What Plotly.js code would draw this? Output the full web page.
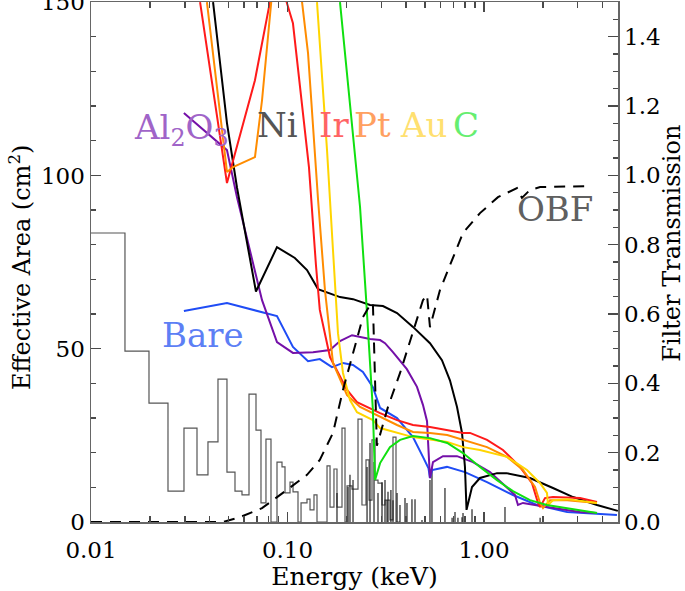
<!DOCTYPE html>
<html>
<head>
<meta charset="utf-8">
<script src="https://cdn.plot.ly/plotly-3.0.1.min.js"></script>
<style>
  html, body { margin: 0; padding: 0; background: #fff; }
  #graph { width: 685px; height: 591px; }
</style>
</head>
<body>
<div id="graph"></div>
<script>
// effective area curves (cm^2) vs energy (keV)
var bareE = [0.0297, 0.0492, 0.0884, 0.1066, 0.1272, 0.146, 0.1684, 0.1916, 0.2155, 0.242, 0.272, 0.296, 0.361, 0.435, 0.489, 0.522, 0.531, 0.545, 0.648, 0.80, 1.036, 1.404, 1.861, 2.65, 4.75];
var bareA = [60.9, 63.2, 59.4, 50.5, 46.4, 47.0, 44.7, 45.9, 45.3, 43.3, 38.9, 32.9, 30.0, 24.5, 18.8, 15.5, 12.7, 15.0, 15.9, 14.4, 11.5, 7.8, 4.9, 2.9, 2.0];

var al2o3E = [0.0297, 0.0492, 0.0553, 0.0742, 0.0884, 0.1066, 0.1349, 0.1645, 0.185, 0.213, 0.263, 0.296, 0.3135, 0.344, 0.405, 0.456, 0.489, 0.513, 0.519, 0.531, 0.550, 0.618, 0.729, 0.879, 1.073, 1.309, 1.438, 1.489, 1.579, 2.09, 3.08, 3.76];
var al2o3A = [118.0, 107.3, 93.8, 64.0, 51.9, 48.8, 49.0, 49.6, 52.2, 53.9, 52.8, 52.5, 51.6, 49.0, 44.1, 39.0, 33.8, 29.1, 23.4, 12.7, 17.3, 19.0, 19.0, 17.3, 14.4, 10.1, 7.8, 4.9, 5.5, 4.3, 2.9, 2.6];

var niE = [0.0418, 0.0492, 0.0553, 0.0691, 0.0884, 0.109, 0.1257, 0.143, 0.185, 0.2155, 0.263, 0.306, 0.361, 0.435, 0.531, 0.611, 0.671, 0.729, 0.773, 0.80, 0.815, 0.869, 0.954, 1.165, 1.30, 1.714, 2.244, 2.84, 3.76, 4.53, 4.8];
var niA = [150, 115.1, 96.6, 66.5, 79.3, 76.2, 72.7, 67.2, 64.9, 64.3, 62.6, 62.3, 60.3, 56.3, 51.6, 46.7, 40.9, 33.2, 25.7, 15.9, 3.5, 10.1, 12.7, 14.1, 14.1, 12.7, 9.8, 7.2, 4.9, 3.5, 3.2];

var irE = [0.0359, 0.0492, 0.0683, 0.0814, 0.09, 0.099, 0.1066, 0.1286, 0.1396, 0.146, 0.1645, 0.2009, 0.2258, 0.296, 0.361, 0.435, 0.531, 0.65, 0.782, 0.849, 1.036, 1.249, 1.524, 1.755, 1.883, 1.93, 2.044, 2.244, 3.08, 3.76];
var irA = [150, 97.8, 127.5, 150, 180, 150, 143.9, 102.4, 74.1, 61.2, 47.6, 38.1, 34.6, 31.4, 29.4, 28.0, 27.4, 26.5, 25.7, 25.7, 23.7, 20.8, 15.9, 11.2, 5.5, 4.3, 6.9, 7.2, 6.9, 5.8];

var ptE = [0.0389, 0.0492, 0.0528, 0.0683, 0.0742, 0.0834, 0.1, 0.1186, 0.1272, 0.1431, 0.1551, 0.1704, 0.2009, 0.234, 0.296, 0.361, 0.435, 0.531, 0.65, 0.782, 1.036, 1.309, 1.579, 1.818, 1.93, 1.997, 2.167, 2.65, 3.76];
var ptA = [150, 101, 102.4, 105.3, 121.7, 150, 200, 150, 135.3, 92.9, 66.9, 45.9, 36.6, 33.2, 30.3, 28.0, 26.0, 25.7, 25.1, 23.7, 21.6, 18.8, 15.0, 10.1, 5.5, 4.0, 6.3, 6.3, 5.5];

var auE = [0.1413, 0.1589, 0.1704, 0.1807, 0.1916, 0.208, 0.2258, 0.272, 0.296, 0.361, 0.435, 0.65, 0.782, 0.954, 1.309, 1.655, 1.93, 2.092, 2.117, 2.244, 2.65, 3.76];
var auA = [150, 107.3, 78.5, 54.5, 43.0, 35.2, 31.7, 29.4, 27.1, 25.7, 24.5, 23.1, 21.6, 20.8, 18.8, 15.0, 11.2, 8.4, 4.9, 6.3, 6.6, 5.5];

var cE = [0.185, 0.208, 0.234, 0.2509, 0.263, 0.272, 0.279, 0.296, 0.332, 0.374, 0.435, 0.531, 0.65, 0.782, 0.954, 1.165, 1.404, 1.714, 2.09, 3.08, 3.76];
var cA = [150, 119.4, 90.9, 64.9, 47.6, 32.3, 12.1, 17.0, 21.6, 23.7, 24.8, 24.2, 22.8, 19.9, 15.9, 12.1, 8.9, 6.3, 4.9, 3.5, 2.6];

// optical blocking filter transmission (right axis)
var obfE = [0.01, 0.0469, 0.0573, 0.0742, 0.099, 0.1257, 0.146, 0.1704, 0.1916, 0.2155, 0.242, 0.263, 0.272, 0.285, 0.3247, 0.374, 0.435, 0.489, 0.513, 0.531, 0.597, 0.695, 0.782, 0.954, 1.178, 1.472, 1.56, 1.714, 1.93, 3.46];
var obfT = [0.0, 0.0, 0.014, 0.040, 0.092, 0.136, 0.179, 0.257, 0.381, 0.488, 0.591, 0.626, 0.632, 0.22, 0.332, 0.430, 0.545, 0.640, 0.655, 0.562, 0.669, 0.764, 0.834, 0.891, 0.937, 0.963, 0.935, 0.958, 0.966, 0.969];

// source spectrum, binned (left edges) and line spikes
var specE = [0.0100, 0.01489, 0.01973, 0.02465, 0.02973, 0.03463, 0.03938, 0.04428, 0.04920, 0.05405, 0.05867, 0.06370, 0.06914, 0.07330, 0.07771, 0.08241, 0.08843, 0.09376, 0.09712, 0.1030, 0.1067, 0.1131, 0.1172, 0.1257, 0.1302, 0.1364, 0.1413, 0.1589, 0.1646, 0.1724, 0.1786, 0.1894, 0.1962, 0.2009, 0.2129, 0.2285, 0.2393, 0.2509, 0.2600, 0.2692, 0.2789, 0.2888, 0.3027, 0.3135, 0.3323, 0.3443, 0.3566, 0.3737];
var specCounts = [83.4, 49.3, 34.3, 8.9, 27.1, 13.6, 23.1, 41.2, 14.4, 8.9, 7.8, 36.9, 26.5, 5.5, 23.9, 0, 17.3, 15.9, 8.4, 11.5, 8.7, 0, 5.5, 6.6, 3.5, 7.8, 0, 16.2, 4.3, 15.3, 4.3, 27.1, 0, 10.4, 9.5, 29.7, 4.9, 17.9, 6.3, 23.7, 12.1, 11.2, 4.9, 6.3, 0.6, 24.5, 0, 0];

var lineE = [0.1786, 0.2033, 0.208, 0.2155, 0.254, 0.263, 0.2756, 0.2888, 0.3027, 0.3135, 0.321, 0.3247, 0.336, 0.3443, 0.361, 0.3737, 0.3963, 0.4056, 0.430, 0.4456, 0.4836, 0.531, 0.5436, 0.633, 0.688, 0.712, 0.737, 0.773, 0.782, 0.869, 1.279, 1.93];
var lineA = [8.4, 10.1, 13.6, 12.1, 15.9, 22.8, 17.3, 8.4, 11.5, 12.1, 6.3, 8.7, 9.2, 6.3, 8.4, 4.9, 6.9, 5.5, 6.6, 6.6, 0.6, 12.1, 15.6, 9.8, 1.2, 2.9, 1.2, 1.4, 2.6, 3.7, 4.3, 1.2];

var spikeX = [], spikeY = [];
for (var i = 0; i < lineE.length; i++) {
    spikeX.push(lineE[i], lineE[i], null);
    spikeY.push(0, lineA[i], null);
}

function curve(x, y, color) {
    return {
        type: 'scatter', mode: 'lines', x: x, y: y,
        line: {color: color, width: 2}, hoverinfo: 'skip'
    };
}

var plot_data = [
    {type: 'scatter', mode: 'lines', x: specE, y: specCounts,
     line: {color: '#555555', width: 1.2, shape: 'hv'}},
    {type: 'scatter', mode: 'lines', x: spikeX, y: spikeY,
     line: {color: '#111111', width: 1.1}},
    curve(bareE, bareA, '#1f4cf5'),
    curve(al2o3E, al2o3A, '#7410a8'),
    curve(niE, niA, '#000000'),
    curve(irE, irA, '#ff1a1a'),
    curve(ptE, ptA, '#ff8c00'),
    curve(auE, auA, '#ffd500'),
    curve(cE, cA, '#10e010'),
    {type: 'scatter', mode: 'lines', x: obfE, y: obfT, yaxis: 'y2',
     line: {color: '#000000', width: 2, dash: '11px,8px'}},
    // invisible trace so the top energy axis (ticks only) gets drawn
    {type: 'scatter', mode: 'markers', x: [1], y: [-100], xaxis: 'x2', yaxis: 'y',
     marker: {opacity: 0}}
];

var axisCommon = {
    showgrid: false, zeroline: false, showline: true,
    linecolor: '#666666', linewidth: 1.5,
    ticks: 'inside', ticklen: 10, tickwidth: 1.3, tickcolor: '#4a4a4a',
    tickfont: {size: 23}, ticklabeloverflow: 'allow'
};

function label(text, x, y, color, size, angle) {
    return {
        text: text, x: x, y: y, xref: 'paper', yref: 'paper',
        xanchor: angle ? 'center' : 'left', yanchor: 'middle', showarrow: false,
        textangle: angle || 0,
        font: {size: size || 34, color: color}
    };
}

var layout = {
    width: 685, height: 591,
    paper_bgcolor: '#ffffff', plot_bgcolor: '#ffffff',
    showlegend: false,
    font: {family: 'DejaVu Serif, serif', color: '#000000'},
    margin: {l: 91, r: 67, t: 2, b: 69},
    xaxis: {
        type: 'log', range: [-2, 0.682],
        showgrid: false, zeroline: false, showline: true, linecolor: '#666666', linewidth: 1.5,
        ticks: 'inside', ticklen: 10, tickcolor: '#4a4a4a', tickwidth: 1.5,
        tickmode: 'linear', tick0: 0, dtick: 1, tickformat: '.2f',
        tickfont: {size: 23},
        minor: {ticks: 'inside', ticklen: 6, tickcolor: '#4a4a4a', tickwidth: 1.5, dtick: 'D1'},
        ticklabelstandoff: 7,
        title: {text: 'Energy (keV)', font: {size: 25}, standoff: 3}
    },
    xaxis2: {
        type: 'log', range: [-2, 0.682], overlaying: 'x', side: 'top', anchor: 'y',
        showgrid: false, zeroline: false, showline: true, linecolor: '#666666',
        ticks: 'inside', ticklen: 10, tickcolor: '#4a4a4a', tickwidth: 1.5,
        tickmode: 'linear', tick0: 0, dtick: 1, showticklabels: false,
        minor: {ticks: 'inside', ticklen: 6, tickcolor: '#4a4a4a', tickwidth: 1.5, dtick: 'D1'}
    },
    yaxis: Object.assign({}, axisCommon, {
        range: [0, 150.05], tickvals: [0, 50, 100, 150], ticktext: ['0', '50', '100', '150'],
        minor: {ticks: 'inside', ticklen: 5, tickwidth: 1.3, tickcolor: '#4a4a4a', dtick: 10}
    }),
    yaxis2: Object.assign({}, axisCommon, {
        overlaying: 'y', side: 'right', range: [0, 1.5],
        tickvals: [0, 0.2, 0.4, 0.6, 0.8, 1.0, 1.2, 1.4], tickformat: '.1f',
        minor: {ticks: 'inside', ticklen: 5, tickwidth: 1.3, tickcolor: '#4a4a4a', dtick: 0.05}
    }),
    annotations: [
        label('Effective Area (cm<sup>2</sup>)', -0.135, 0.49, '#000000', 24, -90),
        label('Filter Transmission', 1.102, 0.5365, '#000000', 24, -90),
        label('Al<sub>2</sub>O<sub>3</sub>', 0.078, 0.755, '#a064c8'),
        label('Ni', 0.311, 0.7635, '#555555'),
        label('Ir', 0.428, 0.7635, '#ff6464'),
        label('Pt', 0.495, 0.7635, '#ffa060'),
        label('Au', 0.582, 0.7635, '#ffe070'),
        label('C', 0.684, 0.7635, '#66ee70'),
        label('OBF', 0.804, 0.602, '#606060'),
        label('Bare', 0.131, 0.3596, '#5d7ff5')
    ]
};

Plotly.newPlot('graph', plot_data, layout, {staticPlot: true});
</script>
</body>
</html>
